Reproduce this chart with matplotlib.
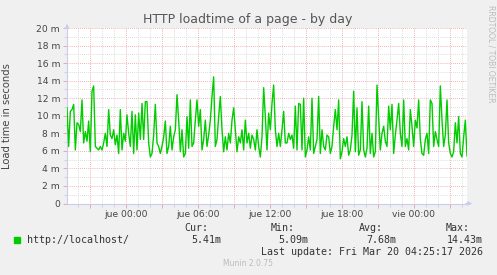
import pandas as pd
import matplotlib
matplotlib.use('Agg')
import matplotlib.pyplot as plt
import matplotlib.patches as mpatches
from matplotlib.ticker import MultipleLocator, FuncFormatter
import matplotlib.dates as mdates

# Load time of http://localhost/ in milliseconds, oldest sample first
loadtime_ms = [
    10.9, 6.5, 10.5, 10.7, 11.3, 6.1, 9.2, 9.0, 8.2, 11.8,
    6.9, 8.2, 7.1, 9.4, 5.9, 12.8, 13.4, 6.5, 6.3, 6.1,
    6.5, 6.1, 6.9, 8.0, 6.5, 10.7, 7.8, 7.4, 8.4, 6.7,
    7.8, 5.7, 10.7, 6.1, 8.0, 7.1, 10.1, 8.0, 6.5, 10.5,
    5.7, 10.1, 6.1, 10.3, 7.3, 11.4, 7.3, 11.6, 11.6, 6.9,
    5.3, 5.7, 7.8, 11.3, 6.9, 6.5, 5.7, 6.5, 7.6, 9.4,
    5.7, 6.5, 8.8, 6.1, 7.6, 8.4, 12.4, 9.5, 5.9, 8.4,
    5.3, 5.7, 9.9, 6.3, 11.8, 6.5, 6.9, 9.5, 11.8, 8.8,
    10.7, 6.1, 7.3, 9.5, 6.5, 7.8, 9.5, 12.2, 14.43, 6.5,
    7.3, 9.9, 12.2, 8.4, 5.9, 7.6, 6.1, 8.0, 6.9, 9.5,
    10.9, 8.4, 5.9, 7.6, 6.9, 8.4, 6.1, 9.5, 6.9, 8.0,
    6.3, 7.8, 7.3, 6.1, 8.4, 6.5, 5.3, 7.6, 13.2, 9.9,
    6.1, 10.3,
    8.4, 11.4, 13.5, 8.4, 6.5, 8.0, 6.5, 8.4, 10.5, 6.9,
    6.9, 8.0, 7.3, 7.8, 6.3, 11.1, 6.1, 11.4, 11.3, 6.1,
    12.0, 5.3, 6.1, 7.6, 6.1, 12.0, 5.7, 6.5, 7.3, 12.2,
    5.7, 8.4, 6.5, 6.1, 7.8, 7.6, 5.7, 6.5, 8.8, 10.7,
    8.4, 11.8, 5.09, 5.9, 7.4, 6.5, 7.6, 5.5, 6.1, 7.8,
    12.8, 5.9, 10.9, 5.5, 6.1, 11.6, 6.1, 5.3, 6.3, 11.1,
    5.7, 8.0, 5.3, 5.9, 13.5, 9.7, 6.1, 8.0, 8.8, 7.1,
    6.5, 11.1, 8.4, 11.3, 5.7, 7.8, 9.5, 11.4, 8.0, 6.5,
    11.8, 6.5, 7.4, 6.1, 10.7, 8.8, 6.5, 9.5, 8.6, 11.8,
    7.3, 5.7, 5.5, 7.3, 8.0, 5.7, 11.8, 11.4, 6.5, 8.2,
    7.3, 6.5, 13.4, 9.5, 6.5, 7.8, 11.8, 6.9, 5.7, 5.3,
    5.9, 9.2, 6.9, 9.9, 5.7, 5.3, 7.6, 9.5, 5.41,
]
last_sample = pd.Timestamp('2026-03-20 04:25:00')
sample_step = pd.Timedelta(seconds=500)
window = pd.Timedelta(minutes=2000)

day_names = ['lun', 'mar', 'mié', 'jue', 'vie', 'sáb', 'dom']
series_label = 'http://localhost/'
stat_names = ['Cur:', 'Min:', 'Avg:', 'Max:']
stat_values = ['5.41m', '5.09m', '7.68m', '14.43m']
last_update = 'Last update: Fri Mar 20 04:25:17 2026'

times = pd.date_range(end=last_sample, periods=len(loadtime_ms), freq=sample_step)

W, H = 497, 275
fig = plt.figure(figsize=(W / 100, H / 100), dpi=100, facecolor='#F0F0F0')
ax = fig.add_axes([67 / W, 71.5 / H, 400 / W, 175.5 / H])
ax.set_facecolor('white')

ax.plot(times, loadtime_ms, color='#00CC00', lw=1.0, zorder=3)

ax.set_xlim(last_sample - window, last_sample)
ax.set_ylim(0, 20)

# grid: red major lines, grey minor lines, both dotted
ax.xaxis.set_major_locator(mdates.HourLocator(byhour=range(0, 24, 3)))
ax.xaxis.set_minor_locator(mdates.HourLocator())
ax.yaxis.set_major_locator(MultipleLocator(2))
ax.yaxis.set_minor_locator(MultipleLocator(1))


def fmt_time(x, pos):
    d = mdates.num2date(x)
    if d.hour % 6:
        return ''
    return f"{day_names[d.weekday()]} {d:%H:%M}"


ax.xaxis.set_major_formatter(FuncFormatter(fmt_time))
ax.yaxis.set_major_formatter(FuncFormatter(lambda v, p: '0' if v == 0 else f'{v:.0f} m'))

ax.set_axisbelow(True)
ax.grid(which='major', color='#EE9999', linestyle=(0, (1, 1.5)), lw=0.6)
ax.grid(which='minor', color='#D0D0D0', linestyle=(0, (1, 1.5)), lw=0.6)

ax.tick_params(which='major', length=3, width=0.6, color='#EE9999',
               labelsize=6.6, labelcolor='#444444', pad=2)
ax.tick_params(which='minor', length=2, width=0.6, color='#D0D0D0')

for side in ['top', 'right']:
    ax.spines[side].set_visible(False)
for side in ['left', 'bottom']:
    ax.spines[side].set_color('#C8CCF4')
    ax.spines[side].set_linewidth(0.8)

# axis arrows
ax.annotate('', xy=(0, 1.04), xytext=(0, 0.99), xycoords='axes fraction',
            arrowprops=dict(arrowstyle='-|>', color='#C8CCF4', lw=0.8,
                            mutation_scale=6))
ax.annotate('', xy=(1.02, 0), xytext=(0.99, 0), xycoords='axes fraction',
            arrowprops=dict(arrowstyle='-|>', color='#C8CCF4', lw=0.8,
                            mutation_scale=6))

ax.set_ylabel('Load time in seconds', fontsize=7.2, color='#444444', labelpad=6)
ax.yaxis.set_label_coords(-55 / 400, 0.5)

fig.text(248 / W, 1 - 19.5 / H, 'HTTP loadtime of a page - by day',
         ha='center', va='center', fontsize=9, color='#555555')
fig.text(491 / W, 1 - 5 / H, 'RRDTOOL / TOBI OETIKER', rotation=270,
         ha='center', va='top', fontsize=5.5, color='#BBBBBB')

# legend block
mono = 'DejaVu Sans Mono'
fig.patches.append(mpatches.Rectangle((14 / W, 1 - 243 / H), 6 / W, 6 / H,
                                      transform=fig.transFigure,
                                      color='#00CC00'))
fig.text(27 / W, 1 - 240 / H, series_label, family=mono, fontsize=7.2,
         color='#333333', va='center')
name_right = [208, 295, 383, 470]
value_right = [221, 308, 396, 483]
for name, val, xn, xv in zip(stat_names, stat_values, name_right, value_right):
    fig.text(xn / W, 1 - 228 / H, name, family=mono, fontsize=7.2,
             color='#333333', ha='right', va='center')
    fig.text(xv / W, 1 - 240 / H, val, family=mono, fontsize=7.2,
             color='#333333', ha='right', va='center')
fig.text(483 / W, 1 - 252 / H, last_update, family=mono, fontsize=7.2,
         color='#333333', ha='right', va='center')
fig.text(248 / W, 1 - 264 / H, 'Munin 2.0.75', fontsize=5.5,
         color='#BBBBBB', ha='center', va='center')

fig.savefig('out.png', dpi=100, facecolor=fig.get_facecolor())
